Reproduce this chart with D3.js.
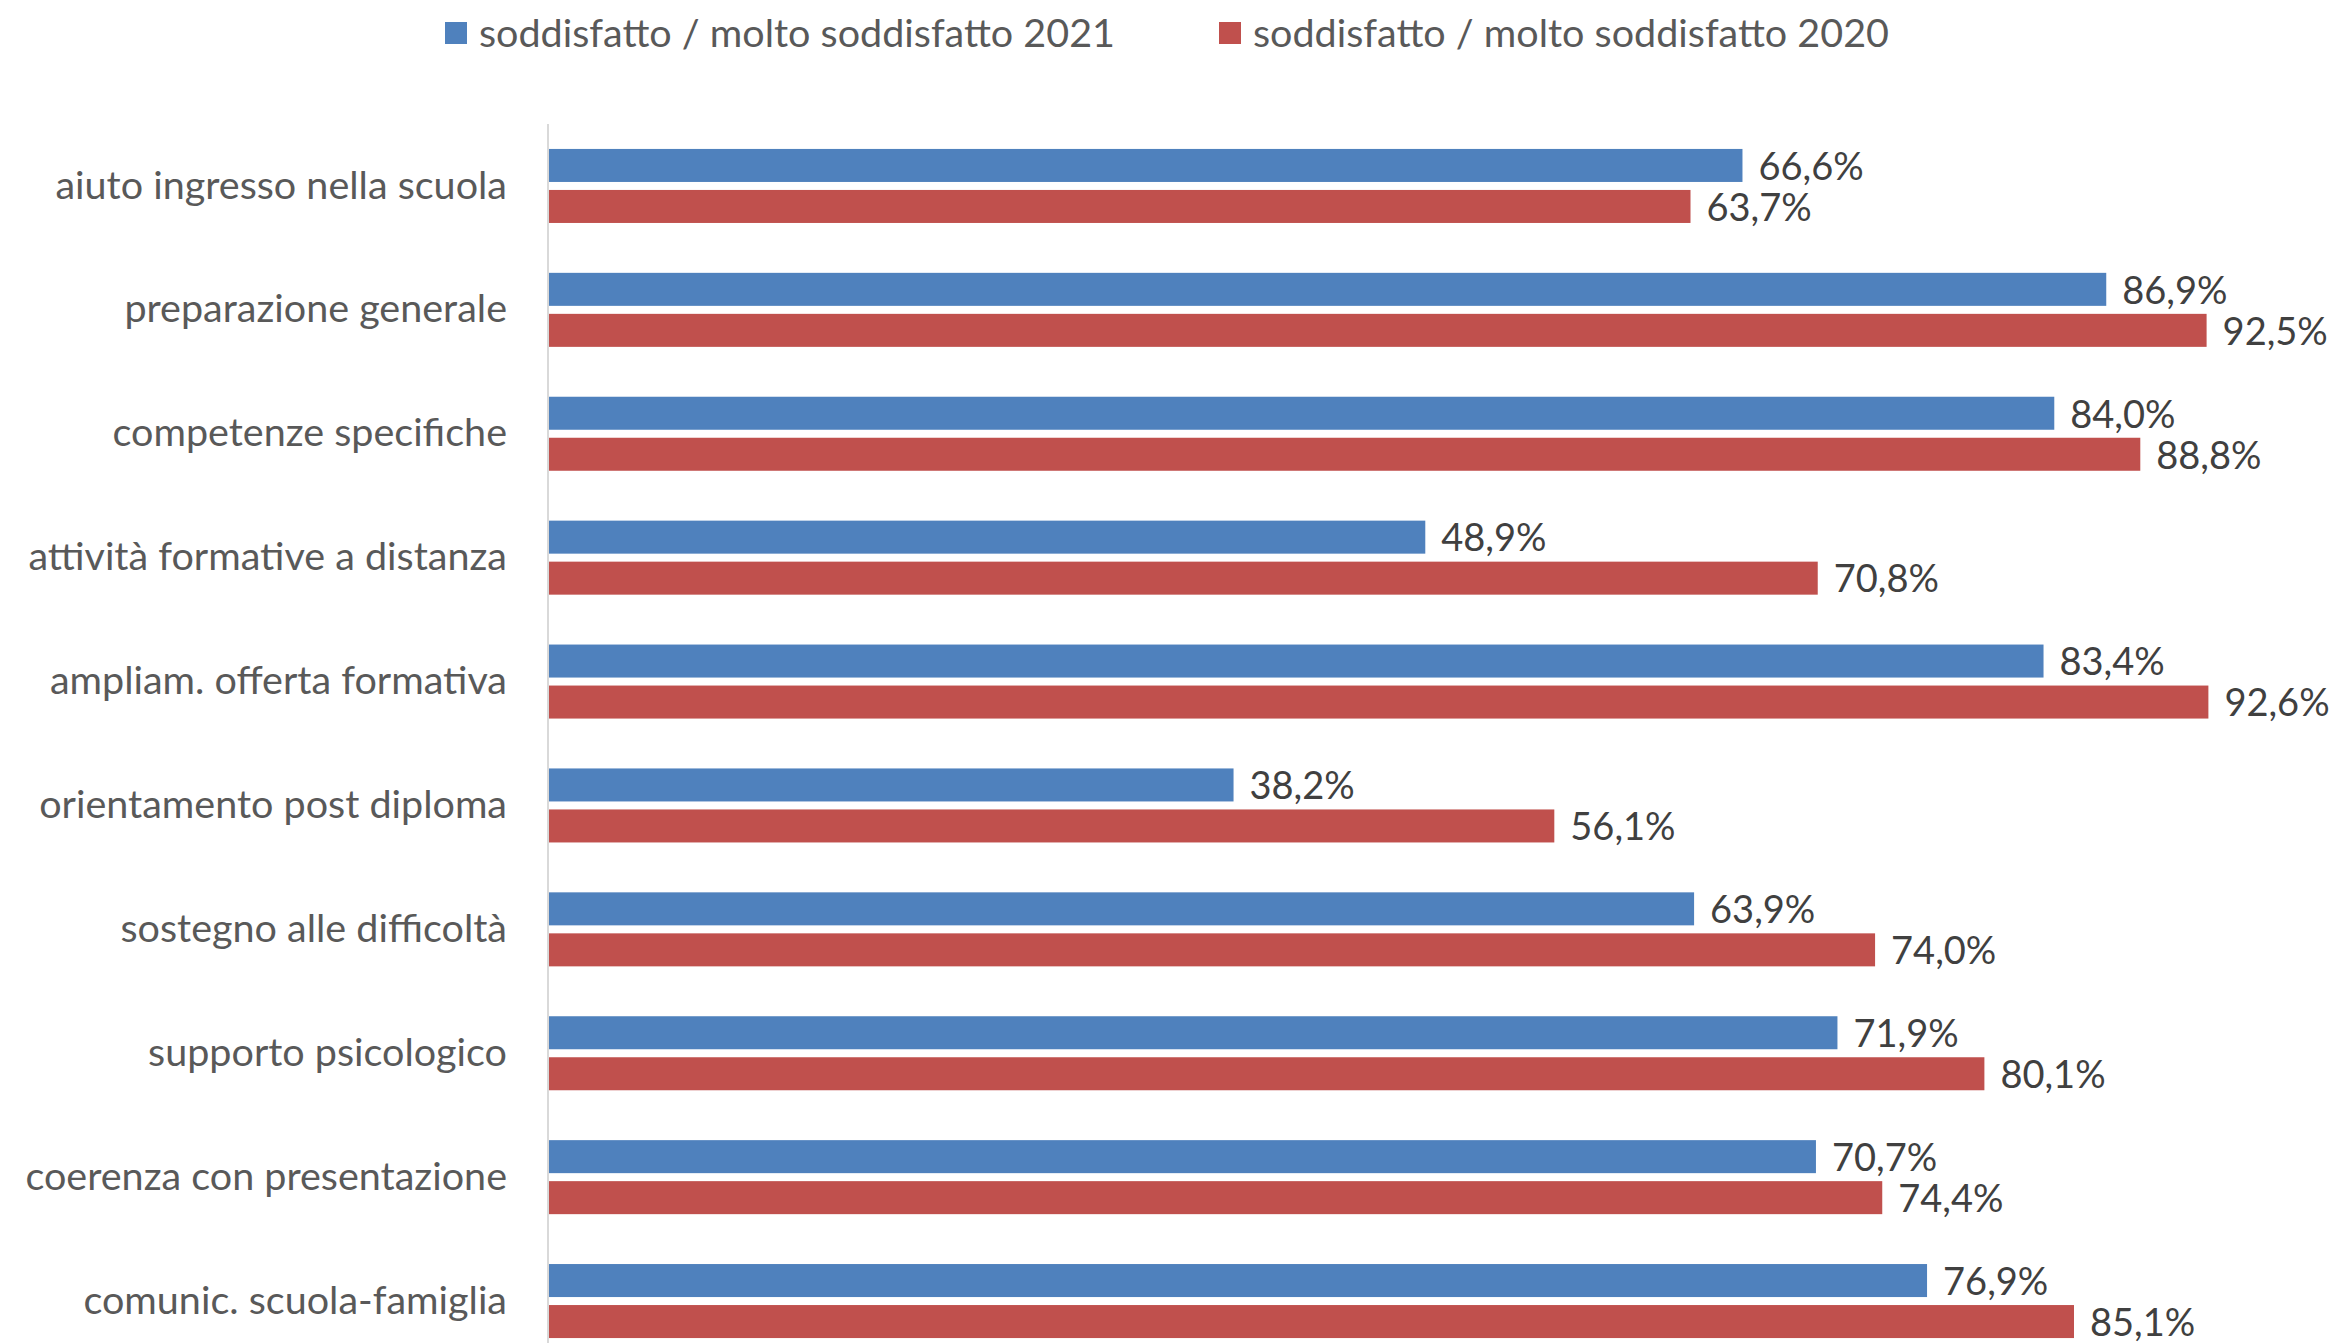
<!DOCTYPE html>
<html>
<head>
<meta charset="utf-8">
<script src="https://cdn.jsdelivr.net/npm/d3@7"></script>
<style>
  body { margin: 0; background: #fff; }
  svg { display: block; font-family: Lato, "Open Sans", sans-serif; }
</style>
</head>
<body>
<div class="chart"></div>
<script>
// data
const categories = [
  "aiuto ingresso nella scuola",
  "preparazione generale",
  "competenze specifiche",
  "attività formative a distanza",
  "ampliam. offerta formativa",
  "orientamento post diploma",
  "sostegno alle difficoltà",
  "supporto psicologico",
  "coerenza con presentazione",
  "comunic. scuola-famiglia",
];
const seriesNames = [
  "soddisfatto / molto soddisfatto 2021",
  "soddisfatto / molto soddisfatto 2020",
];
const values2021 = [66.6, 86.9, 84.0, 48.9, 83.4, 38.2, 63.9, 71.9, 70.7, 76.9];
const values2020 = [63.7, 92.5, 88.8, 70.8, 92.6, 56.1, 74.0, 80.1, 74.4, 85.1];
const colors = ["#4F81BD", "#C0504D"];

// size of the picture
const width = 2339;
const height = 1343;
const margin = { top: 124, left: 549 };

const svg = d3
  .select(".chart")
  .append("svg")
  .attr("width", width)
  .attr("height", height);

// rows, one per category (plot area runs a bit below the picture)
const yScale = d3
  .scaleBand()
  .domain(categories)
  .range([margin.top, margin.top + 1239])
  .paddingInner(0.4026)
  .paddingOuter(0.2013);

// the two bars inside a row
const ySub = d3
  .scaleBand()
  .domain(seriesNames)
  .range([0, yScale.bandwidth()])
  .paddingInner(0.195);

const xScale = d3.scaleLinear().domain([0, 100]).range([margin.left, margin.left + 1792]);

const itFormat = d3.formatLocale({
  decimal: ",",
  thousands: ".",
  grouping: [3],
  currency: ["", "€"],
}).format(".1f");

// table for the bars
const rows = categories.map((c, i) => ({
  category: c,
  bars: [
    { name: seriesNames[0], value: values2021[i], color: colors[0] },
    { name: seriesNames[1], value: values2020[i], color: colors[1] },
  ],
}));

const groups = svg
  .selectAll(".row")
  .data(rows)
  .enter()
  .append("g")
  .attr("class", "row")
  .attr("transform", (d) => "translate(0," + yScale(d.category) + ")");

groups
  .selectAll("rect")
  .data((d) => d.bars)
  .enter()
  .append("rect")
  .attr("x", xScale(0))
  .attr("y", (d) => ySub(d.name))
  .attr("width", (d) => xScale(d.value) - xScale(0))
  .attr("height", ySub.bandwidth())
  .attr("fill", (d) => d.color);

// value labels
groups
  .selectAll(".value")
  .data((d) => d.bars)
  .enter()
  .append("text")
  .attr("class", "value")
  .attr("x", (d) => xScale(d.value) + 16)
  .attr("y", (d) => ySub(d.name) + ySub.bandwidth() / 2 + 1)
  .attr("dy", "0.35em")
  .style("font-size", "38px")
  .style("fill", "#404040")
  .text((d) => itFormat(d.value) + "%");

// category axis (only the line and labels)
const yAxis = svg
  .append("g")
  .attr("transform", "translate(" + (margin.left - 1) + ",0)")
  .call(d3.axisLeft(yScale).tickSize(0).tickPadding(41));

yAxis.select(".domain").attr("stroke", "#D9D9D9").attr("stroke-width", 2)
  .attr("d", "M0," + margin.top + "V" + height);
yAxis
  .selectAll("text")
  .style("font-size", "39.5px")
  .style("font-family", "Lato, 'Open Sans', sans-serif")
  .style("fill", "#595959");

// legend
const legendX = [445, 1219];
const legend = svg
  .selectAll(".legend")
  .data(seriesNames)
  .enter()
  .append("g")
  .attr("class", "legend")
  .attr("transform", (d, i) => "translate(" + legendX[i] + ",22)");

legend
  .append("rect")
  .attr("width", 22)
  .attr("height", 22)
  .attr("fill", (d, i) => colors[i]);

legend
  .append("text")
  .attr("x", 34)
  .attr("y", 11)
  .attr("dy", "0.35em")
  .style("font-size", "39.5px")
  .style("fill", "#595959")
  .text((d) => d);
</script>
</body>
</html>
